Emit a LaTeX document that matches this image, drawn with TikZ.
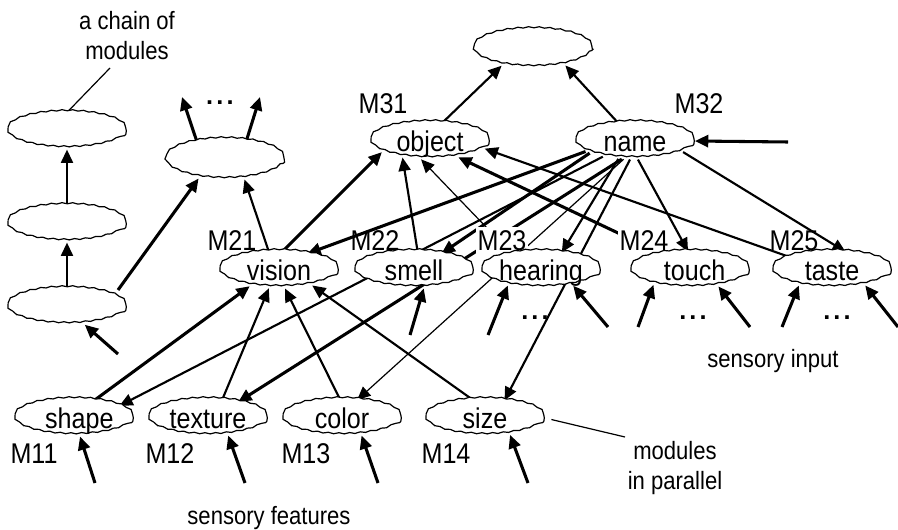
\documentclass[tikz,border=0pt]{standalone}
\usepackage{fontspec}
\setmainfont{Liberation Sans}
\newfontfamily\nsans[FakeStretch=0.88]{Liberation Sans}
\usetikzlibrary{shapes.geometric,arrows.meta,decorations.pathmorphing,backgrounds}
\newcommand\mk[1]{\makebox[0pt]{\raisebox{-0.36em}[0pt][0pt]{#1}}}
\newcommand\threedots{\textbf{.\kern2.4pt.\kern2.4pt.}}
\begin{document}
\begin{tikzpicture}[x=0.75pt,y=-0.75pt,
  mod/.style={ellipse, draw, line width=0.9pt, fill=white, minimum width=89pt, minimum height=27pt,
    inner sep=0pt, font=\nsans\fontsize{21.4pt}{24pt}\selectfont,
    decorate, decoration={snake, amplitude=0.45pt, segment length=8pt}},
  lab/.style={font=\nsans\fontsize{21.4pt}{24pt}\selectfont, inner sep=0.5pt},
  labw/.style={lab, fill=white, inner xsep=1pt, inner ysep=3pt},
  note/.style={font=\nsans\fontsize{18.8pt}{22.5pt}\selectfont, align=center, inner sep=0pt},
  dotsn/.style={font=\fontsize{19pt}{22pt}\selectfont, inner sep=0pt},
  thk/.style={line width=2.3pt},
  med/.style={line width=1.6pt},
  thn/.style={line width=0.9pt},
  arr/.style={-{Triangle[length=10pt,width=9pt]}},
]
\useasboundingbox (0,0) rectangle (898,530);

% labels (drawn before modules so the white boxes do not hide borders)
\node[lab] (M31) at (383,104) {M31};
\node[lab] (M32) at (699,104) {M32};
\node[lab] (M21) at (232,241) {M21};
\node[lab] (M22) at (375,241) {M22};
\node[labw] (M23) at (502,241) {M23};
\node[labw] (M24) at (644,241) {M24};
\node[lab] (M25) at (794,241) {M25};
\node[lab] (M11) at (34,454) {M11};
\node[lab] (M12) at (170,454) {M12};
\node[lab] (M13) at (306,454) {M13};
\node[lab] (M14) at (446,454) {M14};

% modules
\node[mod, minimum height=28.5pt] (T) at (533,49) {};
\node[mod] (O) at (430,141) {\mk{object}};
\node[mod] (N) at (635,141) {\mk{name}};
\node[mod] (e1) at (67,131) {};
\node[mod] (e2) at (67,224) {};
\node[mod] (e3) at (67,307) {};
\node[mod, minimum height=30pt] (e4) at (225,160) {};
\node[mod] (V) at (279,270) {\mk{vision}};
\node[mod] (S) at (414,270) {\mk{smell}};
\node[mod] (H) at (541,270) {\mk{hearing}};
\node[mod] (To) at (690,270) {\mk{\kern7pt touch}};
\node[mod] (Ta) at (832,270) {\mk{taste}};
\node[mod] (Sh) at (74,418) {\mk{\kern8pt shape}};
\node[mod] (Tx) at (208,418) {\mk{texture}};
\node[mod] (C) at (342,418) {\mk{color}};
\node[mod] (Sz) at (485,418) {\mk{size}};

% texts
\node[note, anchor=north] (chaintxt) at (127,11) {a chain of\\modules};
\node[note] (sfeat) at (269,518) {sensory features};
\node[note] (sinput) at (773,361) {sensory input};
\node[note, anchor=north] (partxt) at (675,441) {modules\\in parallel};
\node[dotsn] (d0) at (220,103) {\threedots};
\node[dotsn] (d1) at (535,318) {\threedots};
\node[dotsn] (d2) at (693,318) {\threedots};
\node[dotsn] (d3) at (837,318) {\threedots};

% free ends
\coordinate (ch) at (110,68);
\coordinate (pe) at (625,437);
\coordinate (o1) at (182,97);
\coordinate (o2) at (260,97);
\coordinate (e3o) at (118,290);
\coordinate (i0) at (118,354);
\coordinate (iN) at (788,142);
\coordinate (iS) at (410,335);
\coordinate (iH1) at (488,335);
\coordinate (iH2) at (608,327);
\coordinate (iTo1) at (638,327);
\coordinate (iTo2) at (750,327);
\coordinate (iTa1) at (782,327);
\coordinate (iTa2) at (898,327);
\coordinate (iSh) at (95,483);
\coordinate (iTx) at (245,483);
\coordinate (iC) at (378,483);
\coordinate (iSz) at (528,483);

\begin{pgfonlayer}{background}
% chain and left group
\draw[med,arr] (e3.north) -- (e2.south);
\draw[med,arr] (e2.north) -- (e1.south);
\draw[thk,arr] (i0) -- (e3.-45);
\draw[thk,arr] (e3o) -- (e4.215);
\draw[med,arr] (V.119) -- (e4.-45);
\draw[thk,arr] (e4.147) -- (o1);
\draw[thk,arr] (e4.42) -- (o2);
\draw[thn] (e1.north) -- (ch);
% top
\draw[med,arr] (O.56) -- (T.208);
\draw[med,arr] (N.133) -- (T.-27);
\draw[thk,arr] (iN) -- (N.east);
% into object
\draw[thk,arr] (V.79) -- (O.193);
\draw[med,arr] (S.79) -- (O.211);
\draw[thn,arr] (H.151) -- (O.244);
\draw[thk,arr] (To.150) -- (O.-30);
\draw[med,arr] (Ta.163) -- (O.-8);
% out of name
\draw[thk,arr] (N.192) -- (V.30);
\draw[thk,arr] (N.195) -- (S.31);
\draw[thk,arr] (N.234) -- (Tx.28);
\draw[med,arr] (N.206) -- (Sh.15);
\draw[med,arr] (N.227) -- (H.40);
\draw[thn,arr] (N.238) -- (C.50);
\draw[med,arr] (N.255) -- (Sz.42);
\draw[med,arr] (N.279) -- (To.96);
\draw[med,arr] (N.-13) -- (Ta.53);
% features into vision
\draw[thk,arr] (Sh.41) -- (V.209);
\draw[med,arr] (Tx.52) -- (V.241);
\draw[med,arr] (C.96) -- (V.288);
\draw[med,arr] (Sz.124) -- (V.335);
% inputs
\draw[thk,arr] (iS) -- (S.-62);
\draw[thk,arr] (iH1) -- (H.205);
\draw[thk,arr] (iH2) -- (H.-26);
\draw[thk,arr] (iTo1) -- (To.202);
\draw[thk,arr] (iTo2) -- (To.-30);
\draw[thk,arr] (iTa1) -- (Ta.205);
\draw[thk,arr] (iTa2) -- (Ta.-25);
\draw[thk,arr] (iSh) -- (Sh.-72);
\draw[thk,arr] (iTx) -- (Tx.-41);
\draw[thk,arr] (iC) -- (C.-42);
\draw[thk,arr] (iSz) -- (Sz.-34);
% annotation to modules in parallel
\draw[thn, shorten <=5pt] (Sz.east) -- (pe);
\end{pgfonlayer}
\end{tikzpicture}
\end{document}
